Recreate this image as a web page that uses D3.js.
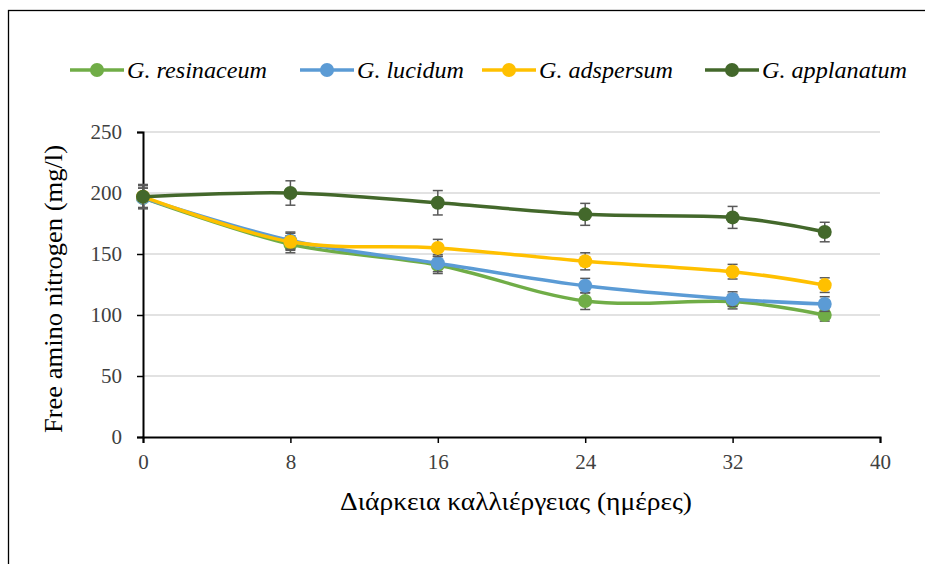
<!DOCTYPE html>
<html>
<head>
<meta charset="utf-8">
<script src="https://cdn.jsdelivr.net/npm/d3@7"></script>
<style>
body { margin: 0; background: #fff; }
svg text { font-family: "Liberation Serif", "Times New Roman", "DejaVu Serif", serif; }
</style>
</head>
<body>
<div id="chart"></div>
<script>
// days of cultivation
var days = [0, 8, 16, 24, 32, 37]
var names = ["G. resinaceum", "G. lucidum", "G. adspersum", "G. applanatum"]
var colors = ["#70ad47", "#5b9bd5", "#ffc000", "#43682b"]
var resinaceum = [196, 158, 141, 111.5, 111, 100]
var lucidum = [196, 161, 142.5, 124, 113, 109]
var adspersum = [197, 160, 155, 144, 135.5, 124.5]
var applanatum = [197, 200, 192, 182.5, 180, 168]
var errResinaceum = [8, 7, 7, 7, 6, 5]
var errLucidum = [8, 7, 7, 6, 6, 6]
var errAdspersum = [9, 7, 7, 7, 6, 6]
var errApplanatum = [10, 10, 10, 9, 9, 8]
var xTicks = [0, 8, 16, 24, 32, 40]
var yTicks = [0, 50, 100, 150, 200, 250]

var W = 925, H = 564
var margin = {top: 132, right: 45, bottom: 127, left: 143}
var width = W - margin.left - margin.right
var height = H - margin.top - margin.bottom
var serif = '"Liberation Serif", "Times New Roman", "DejaVu Serif", serif'

var svg = d3.select("#chart").append("svg")
    .attr("width", W).attr("height", H)

// outer frame (continues past the right and bottom edges)
svg.append("rect")
    .attr("x", 8.5).attr("y", 10.5)
    .attr("width", W + 20).attr("height", H + 20)
    .attr("fill", "none").attr("stroke", "#000").attr("stroke-width", 1.3)

var g = svg.append("g")
    .attr("transform", "translate(" + margin.left + "," + margin.top + ")")

var x = d3.scaleLinear().domain([0, 40]).range([0, width])
var y = d3.scaleLinear().domain([0, 250]).range([height, 0])

// gridlines
g.selectAll(".grid").data(yTicks.slice(1)).enter().append("line")
    .attr("x1", 0).attr("x2", width)
    .attr("y1", function(d){ return y(d) }).attr("y2", function(d){ return y(d) })
    .attr("stroke", "#d9d9d9").attr("stroke-width", 1.5)

var xAxis = g.append("g")
    .attr("transform", "translate(0," + height + ")")
    .call(d3.axisBottom(x).tickValues(xTicks).tickSize(6).tickPadding(11))
var yAxis = g.append("g")
    .call(d3.axisLeft(y).tickValues(yTicks).tickSize(6).tickPadding(15))

;[xAxis, yAxis].forEach(function(a){
    a.attr("font-family", serif).attr("font-size", 21)
    a.select(".domain").attr("stroke", "#000").attr("stroke-width", 2)
    a.selectAll(".tick line").attr("stroke", "#000").attr("stroke-width", 1.5)
    a.selectAll("text").attr("fill", "#404040")
})

var series = [resinaceum, lucidum, adspersum, applanatum]
var errs = [errResinaceum, errLucidum, errAdspersum, errApplanatum]

var line = d3.line()
    .x(function(d){ return x(d[0]) })
    .y(function(d){ return y(d[1]) })
    .curve(d3.curveCatmullRom.alpha(0))

series.forEach(function(vals, i){
    var pts = days.map(function(d, j){ return [d, vals[j], errs[i][j]] })
    var s = g.append("g")
    s.append("path").datum(pts)
        .attr("d", line)
        .attr("fill", "none").attr("stroke", colors[i]).attr("stroke-width", 3.5)
    var eb = s.selectAll(".eb").data(pts).enter().append("g")
    eb.append("line")
        .attr("x1", function(d){ return x(d[0]) }).attr("x2", function(d){ return x(d[0]) })
        .attr("y1", function(d){ return y(d[1] - d[2]) }).attr("y2", function(d){ return y(d[1] + d[2]) })
        .attr("stroke", "#595959").attr("stroke-width", 1.5)
    ;[-1, 1].forEach(function(sg){
        eb.append("line")
            .attr("x1", function(d){ return x(d[0]) - 5 }).attr("x2", function(d){ return x(d[0]) + 5 })
            .attr("y1", function(d){ return y(d[1] + sg * d[2]) }).attr("y2", function(d){ return y(d[1] + sg * d[2]) })
            .attr("stroke", "#595959").attr("stroke-width", 1.5)
    })
    s.selectAll(".pt").data(pts).enter().append("circle")
        .attr("cx", function(d){ return x(d[0]) })
        .attr("cy", function(d){ return y(d[1]) })
        .attr("r", 7).attr("fill", colors[i])
})

// axis titles
svg.append("text")
    .attr("transform", "translate(62," + 289 + ") rotate(-90)")
    .attr("text-anchor", "middle")
    .attr("textLength", 288).attr("lengthAdjust", "spacingAndGlyphs")
    .style("font-size", "25px").attr("fill", "#000")
    .text("Free amino nitrogen (mg/l)")
svg.append("text")
    .attr("x", 516).attr("y", 510)
    .attr("text-anchor", "middle")
    .attr("textLength", 352).attr("lengthAdjust", "spacingAndGlyphs")
    .style("font-size", "25px").attr("fill", "#000")
    .text("Διάρκεια καλλιέργειας (ημέρες)")

// legend
var legX = [70, 300, 482, 705]
var legW = [140, 107, 134, 145]
var leg = svg.selectAll(".leg").data(names).enter().append("g")
    .attr("transform", function(d, i){ return "translate(" + legX[i] + ",70)" })
leg.append("line").attr("x1", 0).attr("x2", 54)
    .attr("stroke", function(d, i){ return colors[i] }).attr("stroke-width", 3.5)
leg.append("circle").attr("cx", 27).attr("r", 7)
    .attr("fill", function(d, i){ return colors[i] })
leg.append("text").attr("x", 57).attr("y", 8)
    .attr("textLength", function(d, i){ return legW[i] }).attr("lengthAdjust", "spacingAndGlyphs")
    .style("font-size", "23px").style("font-style", "italic").attr("fill", "#000")
    .text(function(d){ return d })
</script>
</body>
</html>
